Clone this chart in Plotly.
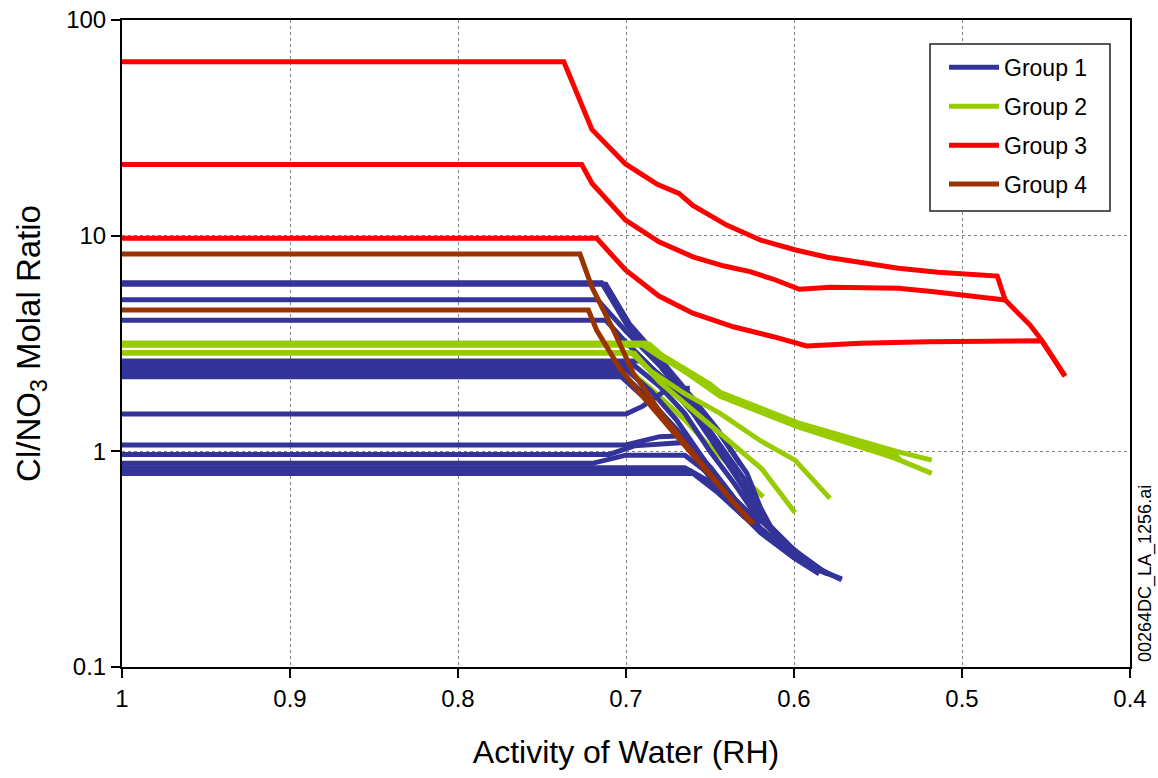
import plotly.graph_objects as go

# Activity of water (x) and Cl/NO3 molal ratio (y) for each evaporation path.
group1_x = [
    [1.0, 0.7145, 0.699, 0.682, 0.662, 0.644, 0.628, 0.620, 0.612, 0.598, 0.583, 0.5716],
    [1.0, 0.712, 0.698, 0.68, 0.66, 0.645, 0.632],
    [1.0, 0.717, 0.70, 0.68, 0.66, 0.645, 0.63, 0.62, 0.60, 0.585, 0.5716],
    [1.0, 0.712, 0.70, 0.68, 0.66, 0.645, 0.63, 0.62, 0.60, 0.58],
    [1.0, 0.69, 0.675, 0.66, 0.645, 0.632, 0.62, 0.61],
    [1.0, 0.695, 0.68, 0.665, 0.65, 0.635, 0.62],
    [1.0, 0.70, 0.685, 0.67, 0.655, 0.64, 0.625, 0.61],
    [1.0, 0.705, 0.69, 0.67, 0.655, 0.64, 0.62, 0.60, 0.58],
    [1.0, 0.70, 0.685, 0.665, 0.65, 0.635, 0.62],
    [1.0, 0.70, 0.69, 0.675, 0.662],
    [1.0, 0.70, 0.68, 0.665, 0.655, 0.64, 0.62, 0.60],
    [1.0, 0.71, 0.695, 0.665, 0.65, 0.635, 0.62],
    [1.0, 0.72, 0.70, 0.665, 0.65, 0.635, 0.62],
    [1.0, 0.665, 0.65, 0.635, 0.62, 0.60, 0.585],
    [1.0, 0.66, 0.645, 0.63, 0.615],
    [1.0, 0.662, 0.648, 0.632, 0.615, 0.598],
]
group1_y = [
    [6.05, 6.05, 3.8, 2.75, 1.8, 1.2, 0.79, 0.55, 0.42, 0.34, 0.28, 0.254],
    [5.95, 5.95, 3.9, 2.7, 1.75, 1.25, 0.87],
    [5.05, 5.05, 3.6, 2.5, 1.6, 1.1, 0.75, 0.5, 0.35, 0.28, 0.256],
    [4.05, 4.05, 3.2, 2.25, 1.5, 1.0, 0.68, 0.48, 0.34, 0.27],
    [2.62, 2.62, 2.1, 1.55, 1.05, 0.72, 0.5, 0.41],
    [2.5, 2.5, 2.0, 1.5, 1.0, 0.7, 0.47],
    [2.4, 2.4, 1.9, 1.4, 0.95, 0.65, 0.47, 0.38],
    [2.3, 2.3, 1.8, 1.25, 0.85, 0.6, 0.43, 0.33, 0.27],
    [2.22, 2.22, 1.7, 1.15, 0.8, 0.58, 0.44],
    [1.49, 1.49, 1.62, 1.95, 1.96],
    [1.07, 1.07, 1.17, 1.18, 0.9, 0.62, 0.44, 0.33],
    [0.967, 0.967, 1.06, 1.1, 0.85, 0.6, 0.46],
    [0.88, 0.88, 0.96, 0.96, 0.78, 0.57, 0.44],
    [0.84, 0.84, 0.72, 0.55, 0.42, 0.32, 0.27],
    [0.79, 0.79, 0.64, 0.5, 0.4],
    [0.815, 0.815, 0.7, 0.52, 0.4, 0.32],
]

# the lowest Group 2 path sits underneath the Group 1 bundle
group2_under_x = [1.0, 0.70, 0.685, 0.665, 0.652, 0.635, 0.6183]
group2_under_y = [2.43, 2.43, 1.95, 1.4, 1.09, 0.82, 0.615]

group2_x = [
    [1.0, 0.688, 0.68, 0.65, 0.644, 0.598, 0.5389, 0.518],
    [1.0, 0.690, 0.681, 0.65, 0.644, 0.598, 0.5389, 0.5367],
    [1.0, 0.686, 0.678, 0.644, 0.598, 0.54, 0.518],
    [1.0, 0.697, 0.685, 0.665, 0.644, 0.62, 0.5994, 0.5786],
    [1.0, 0.695, 0.68, 0.66, 0.646, 0.6192, 0.5994],
]
group2_y = [
    [3.18, 3.18, 2.84, 2.05, 1.88, 1.36, 1.0, 0.91],
    [3.10, 3.10, 2.78, 2.0, 1.83, 1.32, 0.95, 0.91],
    [3.14, 3.14, 2.76, 1.80, 1.30, 0.93, 0.79],
    [2.87, 2.87, 2.35, 1.85, 1.50, 1.12, 0.91, 0.605],
    [2.85, 2.85, 2.1, 1.55, 1.25, 0.83, 0.52],
]

group3_x = [
    [1.0, 0.737, 0.7203, 0.7003, 0.6814, 0.6685, 0.6602, 0.6401, 0.6201, 0.5990,
     0.5802, 0.5590, 0.5379, 0.5143, 0.4790, 0.4743, 0.4595, 0.4526, 0.4387],
    [1.0, 0.7264, 0.7203, 0.7003, 0.6804, 0.6602, 0.6415, 0.6262, 0.6109, 0.5968,
     0.5780, 0.5590, 0.5379, 0.5167, 0.4978, 0.4743],
    [1.0, 0.7174, 0.7003, 0.6804, 0.6602, 0.6361, 0.6123, 0.5925, 0.5607, 0.52,
     0.4526, 0.4387],
]
group3_y = [
    [64, 64, 31.1, 21.5, 17.3, 15.7, 13.8, 11.2, 9.55, 8.58,
     7.94, 7.44, 7.06, 6.76, 6.50, 5.03, 3.85, 3.28, 2.23],
    [21.4, 21.4, 17.5, 11.8, 9.37, 7.98, 7.23, 6.81, 6.23, 5.64,
     5.76, 5.76, 5.70, 5.50, 5.31, 5.03],
    [9.72, 9.72, 6.93, 5.25, 4.37, 3.78, 3.40, 3.08, 3.17, 3.22,
     3.26, 2.23],
]

group4_x = [
    [1.0, 0.7274, 0.7204, 0.7075, 0.6956, 0.6778, 0.652, 0.636, 0.624],
    [1.0, 0.7224, 0.7175, 0.7036, 0.6917, 0.6698, 0.650, 0.636, 0.626],
]
group4_y = [
    [8.22, 8.22, 5.8, 3.65, 2.30, 1.45, 0.82, 0.58, 0.46],
    [4.52, 4.52, 3.65, 2.42, 1.86, 1.17, 0.78, 0.57, 0.47],
]

x_ticks = [1.0, 0.9, 0.8, 0.7, 0.6, 0.5, 0.4]
x_tick_text = ["1", "0.9", "0.8", "0.7", "0.6", "0.5", "0.4"]
y_ticks = [0.1, 1, 10, 100]
y_tick_text = ["0.1", "1", "10", "100"]

BLUE = "#333399"
GREEN = "#99CC00"
RED = "#FF0000"
BROWN = "#993300"
LW = 5
FONT = "Liberation Sans, Arial, sans-serif"

fig = go.Figure()


def add_path(xs, ys, color, name, show):
    fig.add_trace(go.Scatter(
        x=xs, y=ys, mode="lines", name=name, legendgroup=name,
        showlegend=show, line=dict(color=color, width=LW),
        hoverinfo="skip",
    ))


add_path(group2_under_x, group2_under_y, GREEN, "Group 2", False)
for i, (xs, ys) in enumerate(zip(group1_x, group1_y)):
    add_path(xs, ys, BLUE, "Group 1", i == 0)
for i, (xs, ys) in enumerate(zip(group2_x, group2_y)):
    add_path(xs, ys, GREEN, "Group 2", i == 0)
for i, (xs, ys) in enumerate(zip(group3_x, group3_y)):
    add_path(xs, ys, RED, "Group 3", i == 0)
for i, (xs, ys) in enumerate(zip(group4_x, group4_y)):
    add_path(xs, ys, BROWN, "Group 4", i == 0)

axis_common = dict(
    showline=True, linecolor="black", linewidth=2, mirror=True,
    ticks="outside", ticklen=9, tickwidth=1.5, tickcolor="black",
    tickfont=dict(family=FONT, size=24, color="black"),
    showgrid=True, gridcolor="#7f7f7f", gridwidth=1, griddash="3px,3px",
    zeroline=False, automargin=False,
)

fig.update_layout(
    width=1158, height=778,
    margin=dict(l=122, r=28, t=20, b=111),
    paper_bgcolor="white", plot_bgcolor="white",
    font=dict(family=FONT, color="black"),
    xaxis=dict(
        range=[1.0, 0.4], tickvals=x_ticks, ticktext=x_tick_text,
        title=dict(text="Activity of Water (RH)",
                   font=dict(family=FONT, size=32, color="black"), standoff=30),
        **axis_common,
    ),
    yaxis=dict(
        type="log", range=[-1, 2], tickvals=y_ticks, ticktext=y_tick_text,
        title=dict(text="Cl/NO<sub>3</sub> Molal Ratio",
                   font=dict(family=FONT, size=33, color="black"), standoff=16),
        **axis_common,
    ),
    legend=dict(
        x=0.8155, y=0.96, xanchor="left", yanchor="top",
        bgcolor="rgba(0,0,0,0)", borderwidth=0,
        font=dict(family=FONT, size=23, color="black"),
        itemwidth=50, tracegroupgap=6,
    ),
    showlegend=True,
)

# legend frame
fig.add_shape(
    type="rect", xref="paper", yref="paper",
    x0=(930 - 122) / 1008, x1=(1110 - 122) / 1008,
    y0=(667 - 211) / 647, y1=(667 - 44) / 647,
    line=dict(color="#222222", width=1.5), fillcolor="white", layer="above",
)

fig.add_annotation(
    text="00264DC_LA_1256.ai", textangle=-90,
    xref="paper", yref="paper", x=1.0, y=0.0,
    xanchor="left", yanchor="bottom", xshift=3, yshift=3,
    showarrow=False, font=dict(family=FONT, size=18, color="black"),
)

fig.write_html("out.html")
